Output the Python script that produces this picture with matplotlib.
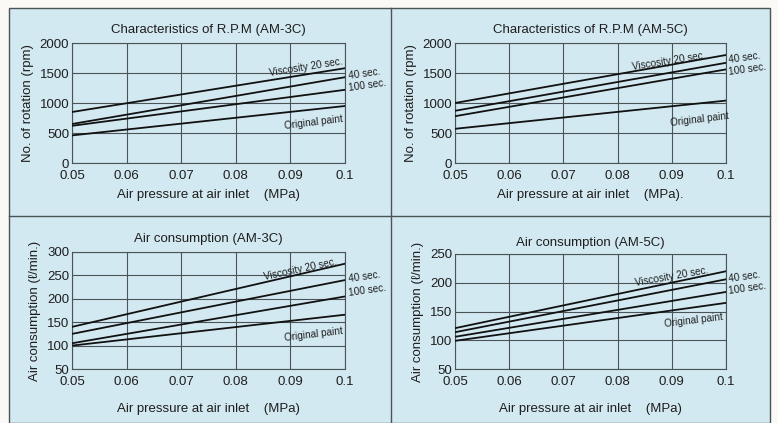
import numpy as np
import matplotlib
matplotlib.use("Agg")
import matplotlib.pyplot as plt
from matplotlib.patches import Rectangle
from matplotlib.lines import Line2D

plt.rcParams['font.family'] = ['Liberation Sans Narrow', 'Liberation Sans', 'DejaVu Sans']

# ---------------- data ----------------
pressure = [0.05, 0.1]
series_names = ["Viscosity 20 sec.", "40 sec.", "100 sec.", "Original paint"]

rpm_3c = {
    "Viscosity 20 sec.": [850, 1580],
    "40 sec.": [650, 1430],
    "100 sec.": [620, 1220],
    "Original paint": [460, 950],
}
rpm_5c = {
    "Viscosity 20 sec.": [1000, 1800],
    "40 sec.": [870, 1670],
    "100 sec.": [780, 1560],
    "Original paint": [570, 1040],
}
air_3c = {
    "Viscosity 20 sec.": [140, 275],
    "40 sec.": [125, 240],
    "100 sec.": [105, 205],
    "Original paint": [100, 166],
}
air_5c = {
    "Viscosity 20 sec.": [121, 220],
    "40 sec.": [114, 206],
    "100 sec.": [106, 184],
    "Original paint": [99, 165],
}

x_ticks = [0.05, 0.06, 0.07, 0.08, 0.09, 0.1]
x_ticklabels = ["0.05", "0.06", "0.07", "0.08", "0.09", "0.1"]

BG = "#d3e9f1"
GRID = "#4a5356"
INK = "#1e1e1e"

fig = plt.figure(figsize=(7.78, 4.23), dpi=100)
fig.patch.set_facecolor("#fbf9f6")

# outer framed background
W, H = 778, 423
def fx(px): return px / W
def fy(py): return 1 - py / H

fig.patches.append(Rectangle((fx(9), fy(423)), fx(770) - fx(9), fy(8) - fy(423),
                             transform=fig.transFigure, facecolor=BG,
                             edgecolor=GRID, lw=1.0, zorder=-5))
fig.lines.append(Line2D([fx(391), fx(391)], [fy(8), fy(423)], transform=fig.transFigure,
                        color=GRID, lw=1.0, zorder=-4))
fig.lines.append(Line2D([fx(9), fx(770)], [fy(216), fy(216)], transform=fig.transFigure,
                        color=GRID, lw=1.0, zorder=-4))


def panel(rect, data, title, ylabel, ylim, yticks, label_pos, xlabel_dot=False,
          title_pad=7, xlabel_pad=5):
    l, t, r, b = rect
    ax = fig.add_axes([fx(l), fy(b), fx(r) - fx(l), fy(t) - fy(b)])
    ax.set_facecolor(BG)
    for name in series_names:
        ax.plot(pressure, data[name], color="#111111", lw=1.3, zorder=3)
    ax.set_xlim(0.05, 0.1)
    ax.set_ylim(*ylim)
    ax.set_xticks(x_ticks)
    ax.set_xticklabels(x_ticklabels)
    ax.set_yticks(yticks)
    ax.grid(True, color=GRID, lw=0.8)
    ax.tick_params(length=0, labelsize=9.5, colors=INK)
    ax.tick_params(axis="x", pad=5)
    ax.tick_params(axis="y", pad=2)
    for s in ax.spines.values():
        s.set_color(GRID)
        s.set_linewidth(0.8)
    ax.set_title(title, fontsize=9.5, color=INK, pad=title_pad)
    xl = "Air pressure at air inlet    (MPa)" + ("." if xlabel_dot else "")
    ax.set_xlabel(xl, fontsize=9.5, color=INK, labelpad=xlabel_pad)
    ax.set_ylabel(ylabel, fontsize=9.5, color=INK, labelpad=4)
    for name, (tx, ty, rot, ha) in zip(series_names, label_pos):
        ax.text(tx, ty, name, fontsize=7.2, rotation=rot, ha=ha, va="center",
                color=INK, clip_on=False, rotation_mode="anchor")
    return ax


panel((72, 43, 345, 163), rpm_3c, "Characteristics of R.P.M (AM-3C)",
      "No. of rotation (rpm)", (0, 2000), [0, 500, 1000, 1500, 2000],
      [(0.0996, 1690, 9, "right"), (0.1007, 1450, 8, "left"),
       (0.1007, 1250, 8, "left"), (0.0996, 730, 7, "right")],
      xlabel_pad=5)

panel((455, 43, 726, 163), rpm_5c, "Characteristics of R.P.M (AM-5C)",
      "No. of rotation (rpm)", (0, 2000), [0, 500, 1000, 1500, 2000],
      [(0.0962, 1790, 9, "right"), (0.1005, 1720, 8, "left"),
       (0.1005, 1520, 8, "left"), (0.1006, 790, 7, "right")],
      xlabel_dot=True, xlabel_pad=5)

panel((72, 252, 345, 369), air_3c, "Air consumption (AM-3C)",
      "Air consumption (\u2113/min.)", (50, 300), [50, 100, 150, 200, 250, 300],
      [(0.0985, 280, 12, "right"), (0.1007, 242, 8, "left"),
       (0.1007, 212, 8, "left"), (0.0996, 132, 7, "right")],
      xlabel_pad=11)

panel((455, 254, 726, 369), air_5c, "Air consumption (AM-5C)",
      "Air consumption (\u2113/min.)", (50, 250), [50, 100, 150, 200, 250],
      [(0.0967, 222, 10, "right"), (0.1005, 207, 8, "left"),
       (0.1005, 186, 8, "left"), (0.0994, 141, 7, "right")],
      title_pad=6, xlabel_pad=11)

fig.savefig("out.png", dpi=100, facecolor=fig.get_facecolor())
